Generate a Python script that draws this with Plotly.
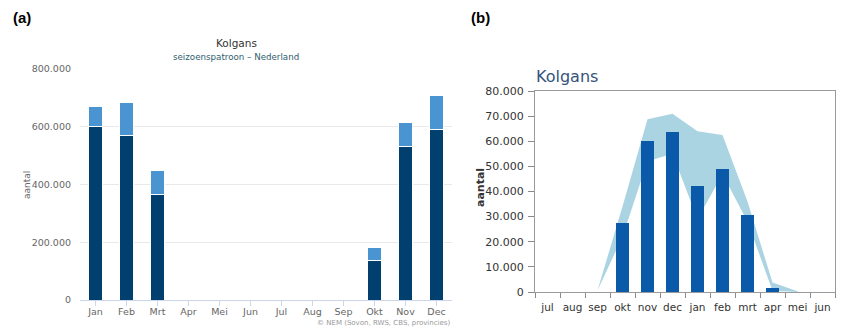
import plotly.graph_objects as go

W, H = 845, 329

# ---- (a) monthly totals, calendar year (stacked) ----
months_a = ["Jan", "Feb", "Mrt", "Apr", "Mei", "Jun", "Jul", "Aug", "Sep", "Okt", "Nov", "Dec"]
counted_a = [602000, 569000, 365000, 0, 0, 0, 0, 0, 0, 137000, 530000, 591000]
added_a = [68000, 116000, 84000, 0, 0, 0, 0, 0, 0, 44000, 85000, 118000]
yticks_a = [0, 200000, 400000, 600000, 800000]

# ---- (b) season July-June: mean and range band ----
months_b = ["jul", "aug", "sep", "okt", "nov", "dec", "jan", "feb", "mrt", "apr", "mei", "jun"]
mean_b = [0, 0, 0, 27300, 60200, 63800, 42200, 48800, 30600, 1500, 0, 0]
band_months = ["sep", "okt", "nov", "dec", "jan", "feb", "mrt", "apr", "mei"]
band_low = [600, 22000, 52000, 55000, 29000, 47000, 28000, 500, 0]
band_high = [600, 34000, 68800, 70900, 64000, 62500, 36000, 3800, 300]
yticks_b = list(range(0, 80001, 10000))

def px_x(v):
    return v / W

def px_y(v):
    return 1 - v / H

fig = go.Figure()

# (a) stacked bars
fig.add_trace(go.Bar(x=months_a, y=counted_a, xaxis="x", yaxis="y",
                     marker=dict(color="#01406e", line=dict(color="#ffffff", width=1)),
                     width=0.47, name="geteld"))
fig.add_trace(go.Bar(x=months_a, y=added_a, xaxis="x", yaxis="y",
                     marker=dict(color="#4a94d2", line=dict(color="#ffffff", width=1)),
                     width=0.47, name="bijgeschat"))

# (b) range band on the base axes, bars on an overlaid y axis so they sit on top
fig.add_trace(go.Scatter(x=band_months, y=band_low, xaxis="x2", yaxis="y2",
                         mode="lines", line=dict(width=0, color="#abd4e2"),
                         hoverinfo="skip", showlegend=False))
fig.add_trace(go.Scatter(x=band_months, y=band_high, xaxis="x2", yaxis="y2",
                         mode="lines", line=dict(width=0, color="#abd4e2"),
                         fill="tonexty", fillcolor="#abd4e2",
                         hoverinfo="skip", showlegend=False))
fig.add_trace(go.Bar(x=months_b, y=mean_b, xaxis="x2", yaxis="y3",
                     marker=dict(color="#0b5aa9", line=dict(width=0)),
                     width=0.5, name="gemiddeld"))

font_a = "DejaVu Sans"
font_b = "DejaVu Sans"

fig.update_layout(
    width=W, height=H, autosize=False,
    margin=dict(l=0, r=0, t=0, b=0, pad=0, autoexpand=False),
    paper_bgcolor="white", plot_bgcolor="rgba(0,0,0,0)",
    separators=",.",
    barmode="stack",
    showlegend=False,
    xaxis=dict(domain=[px_x(80), px_x(452)], anchor="y", type="category",
               categoryorder="array", categoryarray=months_a, range=[-0.5, 11.5],
               showline=True, linecolor="#ccd6eb", linewidth=1,
               ticks="outside", tickcolor="#ccd6eb", ticklen=5,
               showgrid=False, automargin=False, tickangle=0,
               ticklabelstandoff=-2,
               tickfont=dict(family=font_a, size=9.5, color="#666666")),
    yaxis=dict(domain=[px_y(300), px_y(69)], anchor="x", range=[0, 800000],
               tickvals=yticks_a, tickformat=",d",
               showgrid=True, gridcolor="#e9e9e9", gridwidth=1,
               zeroline=False, showline=False, ticks="",
               ticklabelstandoff=8, automargin=False,
               tickfont=dict(family=font_a, size=9.5, color="#666666")),
    xaxis2=dict(domain=[px_x(535), px_x(835)], anchor="y2", type="category",
                categoryorder="array", categoryarray=months_b, range=[-0.5, 11.5],
                tickson="boundaries", ticks="outside", ticklen=5, tickcolor="#8a8a8a",
                showline=True, mirror=True, linecolor="#9a9a9a", linewidth=1,
                showgrid=False, automargin=False, tickangle=0,
                ticklabelstandoff=5,
                tickfont=dict(family=font_b, size=10.5, color="#333333")),
    yaxis2=dict(domain=[px_y(292), px_y(91)], anchor="x2", range=[0, 80000],
                tickvals=yticks_b, tickformat=",d",
                ticks="outside", ticklen=6, tickcolor="#8a8a8a",
                showline=True, mirror=True, linecolor="#9a9a9a", linewidth=1,
                showgrid=False, zeroline=False, ticklabelstandoff=2,
                automargin=False,
                tickfont=dict(family=font_b, size=11, color="#333333")),
    yaxis3=dict(overlaying="y2", anchor="x2", range=[0, 80000], visible=False,
                automargin=False),
)

ann = [
    dict(text="<b>(a)</b>", x=px_x(11), y=px_y(18), xanchor="left", yanchor="middle",
         font=dict(family="Liberation Sans", size=15, color="#000000")),
    dict(text="<b>(b)</b>", x=px_x(469), y=px_y(18), xanchor="left", yanchor="middle",
         font=dict(family="Liberation Sans", size=15, color="#000000")),
    dict(text="Kolgans", x=px_x(236), y=px_y(43), xanchor="center", yanchor="middle",
         font=dict(family=font_a, size=10.5, color="#333333")),
    dict(text="seizoenspatroon – Nederland", x=px_x(236), y=px_y(57), xanchor="center",
         yanchor="middle", font=dict(family=font_a, size=8.7, color="#2d5d6f")),
    dict(text="aantal", x=px_x(27), y=px_y(185), xanchor="center", yanchor="middle",
         textangle=-90, font=dict(family=font_a, size=9, color="#666666")),
    dict(text="© NEM (Sovon, RWS, CBS, provincies)", x=px_x(452), y=px_y(322.5),
         xanchor="right", yanchor="middle",
         font=dict(family=font_a, size=7, color="#999999")),
    dict(text="Kolgans", x=px_x(534), y=px_y(76), xanchor="left", yanchor="middle",
         font=dict(family=font_b, size=16, color="#34537a")),
    dict(text="<b>aantal</b>", x=px_x(480), y=px_y(188), xanchor="center", yanchor="middle",
         textangle=-90, font=dict(family=font_b, size=11, color="#333333")),
]
for a in ann:
    a.update(xref="paper", yref="paper", showarrow=False)
fig.update_layout(annotations=ann)

fig.write_html("out.html")
